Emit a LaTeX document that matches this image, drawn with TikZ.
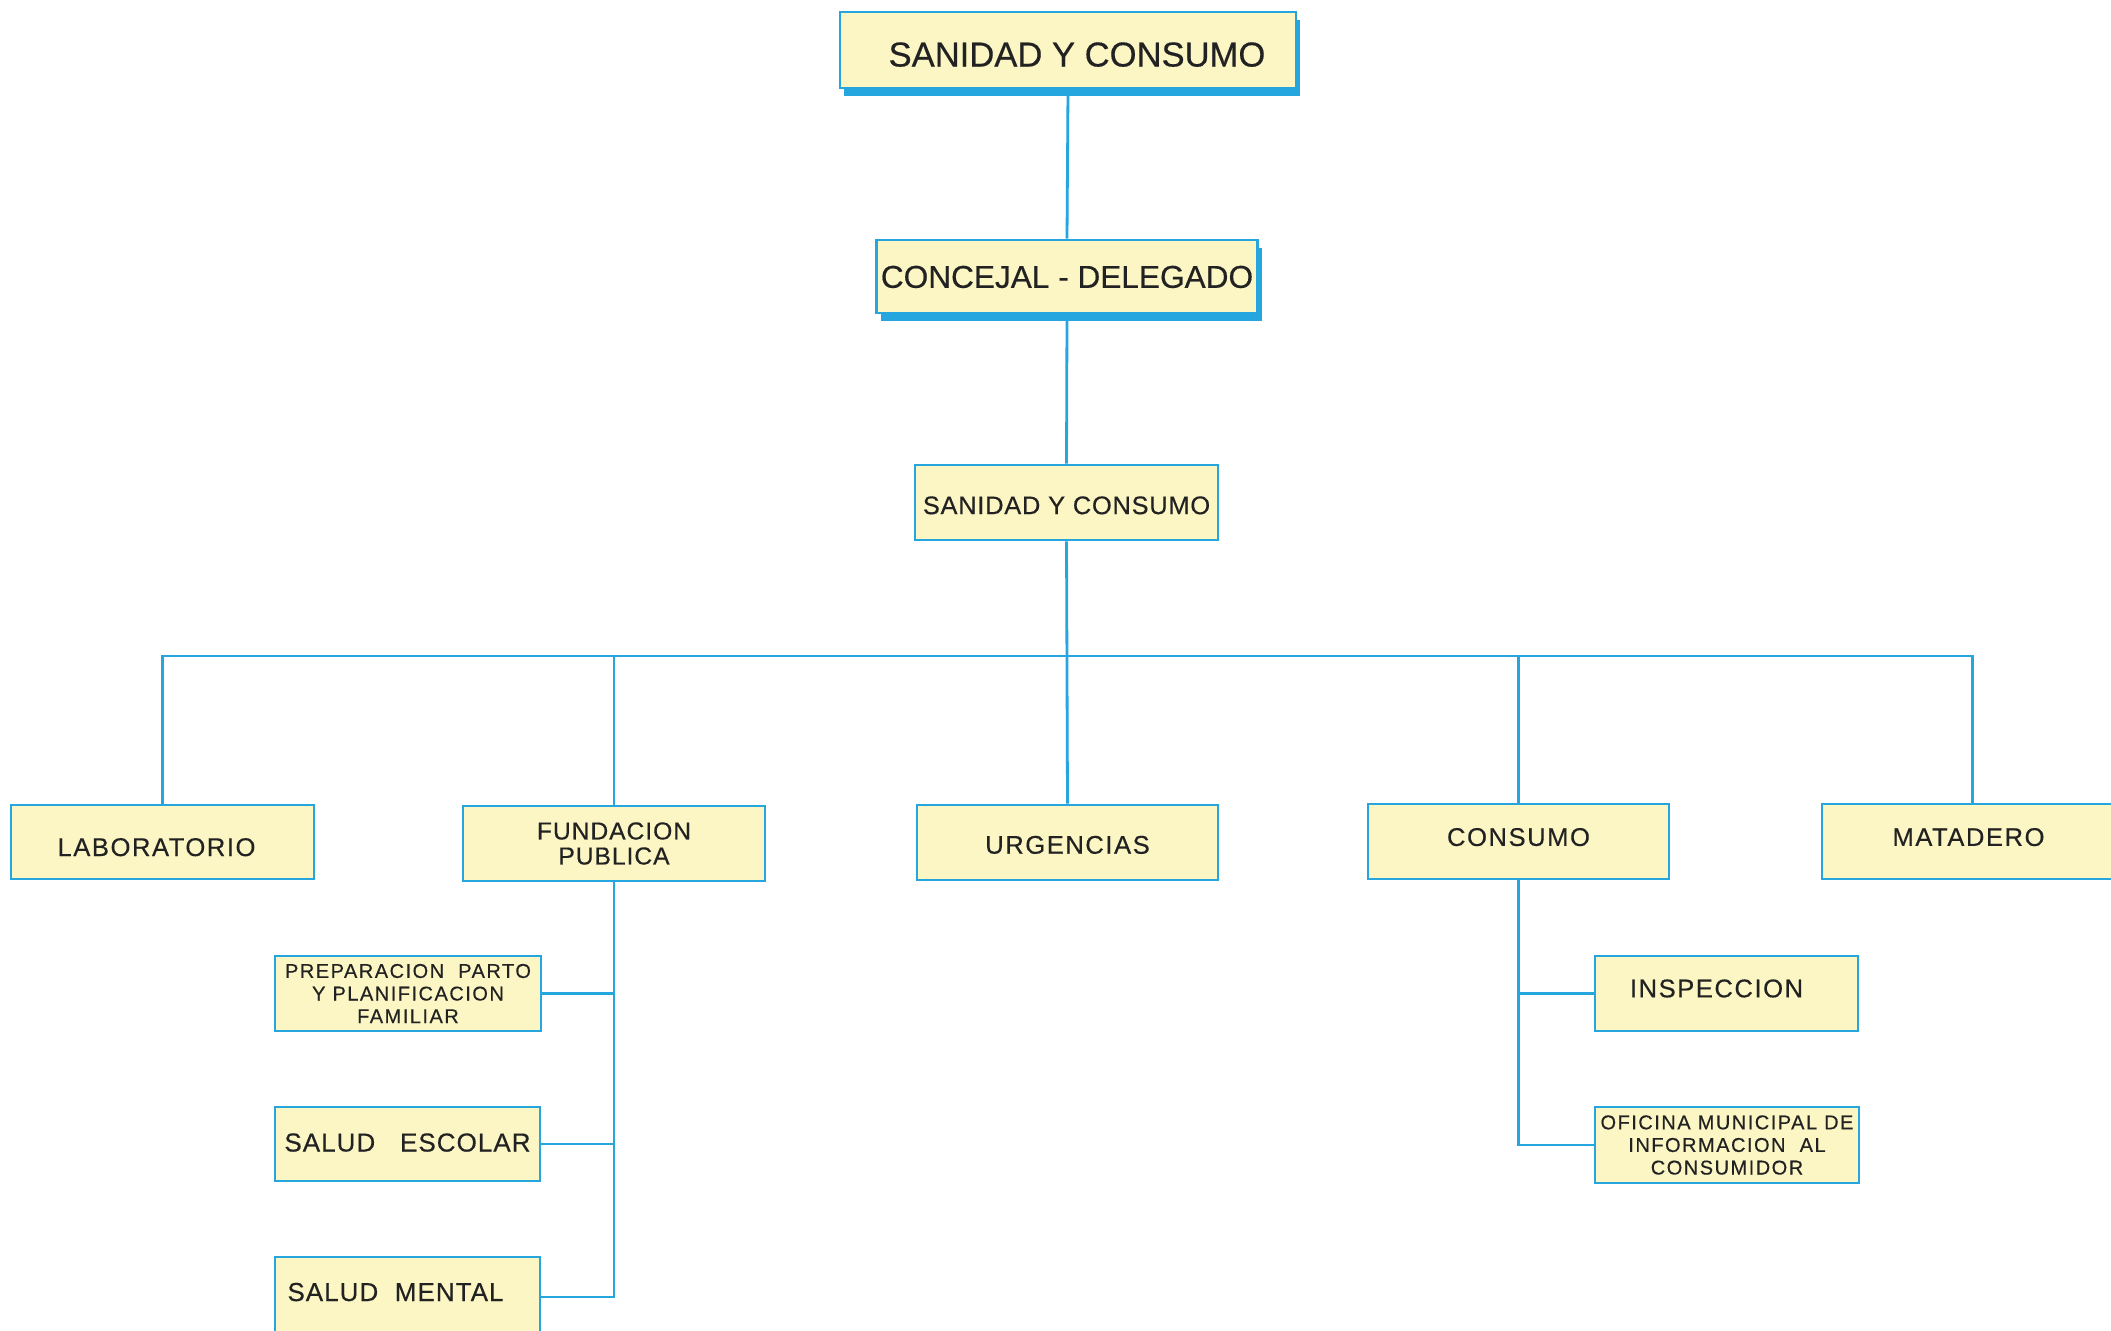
\documentclass[tikz,border=0pt]{standalone}
\usepackage{fontspec}
\setmainfont{Liberation Sans}
\usetikzlibrary{shadows}
\definecolor{bl}{HTML}{25A6DE}
\definecolor{yl}{HTML}{FBF6C4}
\definecolor{tx}{HTML}{222222}
\newcommand{\ffz}[3]{\fontsize{#1}{#2}\selectfont\addfontfeatures{LetterSpace=#3,FakeBold=0.4}}
\begin{document}
\begin{tikzpicture}[x=0.5pt,y=-0.5pt,
  box/.style={draw=bl, fill=yl, line width=1.4pt, text=tx, align=center, inner sep=0pt},
  big/.style={box, drop shadow={shadow xshift=2.2pt, shadow yshift=-4pt, fill=bl, opacity=1}},
  ln/.style={draw=bl, line width=1.4pt},
  tv/.style={text height=#1, text depth=0pt},
  mid/.style={font={\ffz{12.8pt}{13pt}{6}}},
  small/.style={font={\ffz{10pt}{11.3pt}{7.5}}}]
\useasboundingbox (0,0) rectangle (2111,1330);
\clip (0,0) rectangle (2111,1330);
\fill[white] (0,0) rectangle (2111,1330);

\node[big, tv=16.5pt, minimum width=228pt, minimum height=38pt, font={\ffz{17.3pt}{18pt}{0}}] (top) at (1068,50)
  {\hspace{9pt}SANIDAD Y CONSUMO};
\node[big, tv=11.3pt, minimum width=190.5pt, minimum height=36.5pt, font={\ffz{15.8pt}{17pt}{0}}] (con) at (1067,276.5)
  {CONCEJAL - DELEGADO};
\node[box, tv=11.6pt, minimum width=151.5pt, minimum height=37.5pt, font={\ffz{12.7pt}{13pt}{3}}] (san) at (1066.5,502.5)
  {SANIDAD Y CONSUMO};

\node[box, mid, tv=14pt, minimum width=151.5pt, minimum height=37pt] (lab) at (162.5,842)
  {LABORATORIO\hspace{6pt}};
\node[box, minimum width=151pt, minimum height=37.5pt, font={\ffz{12.3pt}{12.5pt}{4}}] (fund) at (614,843.5)
  {FUNDACION\\PUBLICA\hspace{2pt}};
\node[box, mid, tv=11.2pt, minimum width=150.5pt, minimum height=37.5pt] (urg) at (1067.5,842.5)
  {URGENCIAS};
\node[box, mid, tv=4.4pt, minimum width=150.5pt, minimum height=37.5pt] (cons) at (1518.5,841.5)
  {CONSUMO};
\node[box, mid, tv=4.4pt, minimum width=150.5pt, minimum height=37.5pt] (mat) at (1972.5,841.5)
  {MATADERO\hspace{4pt}};

\node[box, small, minimum width=133pt, minimum height=37.5pt] (prep) at (408,993.5)
  {PREPARACION\ \ PARTO\\Y\ PLANIFICACION\hspace{12pt}\\FAMILIAR\hspace{10pt}};
\node[box, tv=7.5pt, minimum width=132.5pt, minimum height=37pt, font={\ffz{13pt}{14pt}{4}}] (esc) at (407.5,1144)
  {SALUD\ \ \ ESCOLAR};
\node[box, tv=4pt, minimum width=132.5pt, minimum height=40pt, font={\ffz{13pt}{14pt}{4}}] (ment) at (407.5,1297)
  {SALUD\ \ MENTAL\hspace{12pt}};

\node[box, mid, tv=3.8pt, minimum width=131.5pt, minimum height=37.5pt] (insp) at (1726.5,993.5)
  {INSPECCION\hspace{10pt}};
\node[box, small, minimum width=132pt, minimum height=38pt] (ofic) at (1727,1145)
  {OFICINA\ MUNICIPAL\ DE\\INFORMACION\ \ AL\\CONSUMIDOR\hspace{8pt}};

\coordinate (bus) at (1067,656);
\draw[ln] (top.south) -- (con.north);
\draw[ln] (con.south) -- (san.north);
\draw[ln] (san.south) -- (urg.north);
\draw[ln] (lab.north) -- (lab.north |- bus) -- (mat.north |- bus) -- (mat.north);
\draw[ln] (fund.north) -- (fund.north |- bus);
\draw[ln] (cons.north) -- (cons.north |- bus);

\draw[ln] (fund.south) |- (ment.east);
\draw[ln] (prep.east) -- (prep.east -| fund.south);
\draw[ln] (esc.east) -- (esc.east -| fund.south);

\draw[ln] (cons.south) |- (ofic.west);
\draw[ln] (insp.west) -- (insp.west -| cons.south);
\end{tikzpicture}
\end{document}
